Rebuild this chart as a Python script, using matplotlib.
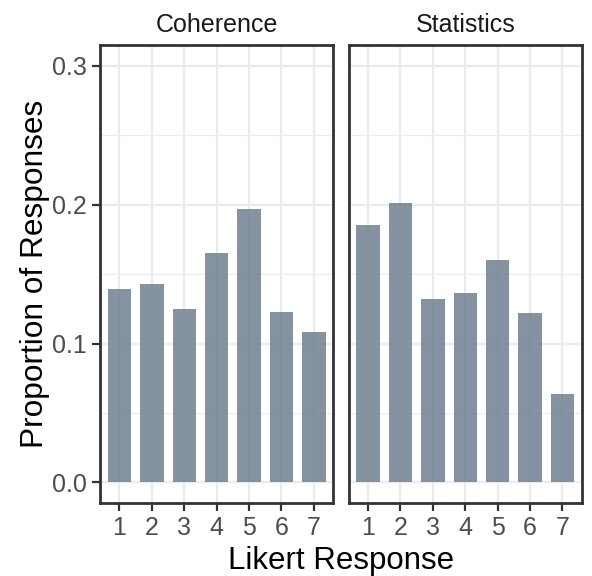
import matplotlib
matplotlib.use("Agg")
import matplotlib.pyplot as plt
import numpy as np

plt.rcParams['font.family'] = ['Liberation Sans', 'DejaVu Sans']

responses = [1, 2, 3, 4, 5, 6, 7]
tick_labels = ["1", "2", "3", "4", "5", "6", "7"]
facets = ["Coherence", "Statistics"]
coherence = [0.139, 0.143, 0.125, 0.1655, 0.1966, 0.1226, 0.1083]
statistics = [0.1851, 0.2009, 0.132, 0.1363, 0.160, 0.1219, 0.0637]
series = [coherence, statistics]
y_ticks = [0.0, 0.1, 0.2, 0.3]
y_tick_labels = ["0.0", "0.1", "0.2", "0.3"]

W, H = 592, 576
fig = plt.figure(figsize=(W / 100, H / 100), dpi=100)

panel_x = [100.0, 348.6]
panel_w = 233.3
panel_top, panel_bottom = 45.0, 503.3

bar_color = "#708090"
grid_color = "#EBEBEB"
border_color = "#333333"

for i, (name, vals) in enumerate(zip(facets, series)):
    ax = fig.add_axes([panel_x[i] / W, (H - panel_bottom) / H,
                       panel_w / W, (panel_bottom - panel_top) / H])
    ax.set_xlim(0.4, 7.6)
    ax.set_ylim(-0.015, 0.315)
    ax.set_axisbelow(True)
    # grid: major and minor horizontal, major vertical
    for y in [0.05, 0.15, 0.25]:
        ax.axhline(y, color=grid_color, lw=0.8, zorder=0)
    for y in y_ticks:
        ax.axhline(y, color=grid_color, lw=1.6, zorder=0)
    for x in responses:
        ax.axvline(x, color=grid_color, lw=1.6, zorder=0)
    ax.bar(responses, vals, width=0.72, color=bar_color, alpha=0.85,
           linewidth=0, zorder=2)
    ax.set_xticks(responses)
    ax.set_xticklabels(tick_labels)
    ax.set_yticks(y_ticks)
    if i == 0:
        ax.set_yticklabels(y_tick_labels)
    else:
        ax.tick_params(axis='y', left=False, labelleft=False)
    ax.tick_params(axis='both', direction='out', length=5.5, width=1.6,
                   color=border_color, labelcolor="#4D4D4D", labelsize=18,
                   pad=4)
    for s in ax.spines.values():
        s.set_color(border_color)
        s.set_linewidth(2.0)
    ax.set_title(name, fontsize=18, color="#1A1A1A", pad=9.5)

fig.text((panel_x[0] + panel_x[1] + panel_w) / 2 / W, (H - 569) / H,
         "Likert Response", ha='center', va='baseline', fontsize=22.5,
         color='black')
fig.text(35.5 / W, (H - (panel_top + panel_bottom) / 2) / H,
         "Proportion of Responses", ha='center', va='center', rotation=90,
         fontsize=22.8, color='black')

fig.savefig("out.png", dpi=100, facecolor='white')
